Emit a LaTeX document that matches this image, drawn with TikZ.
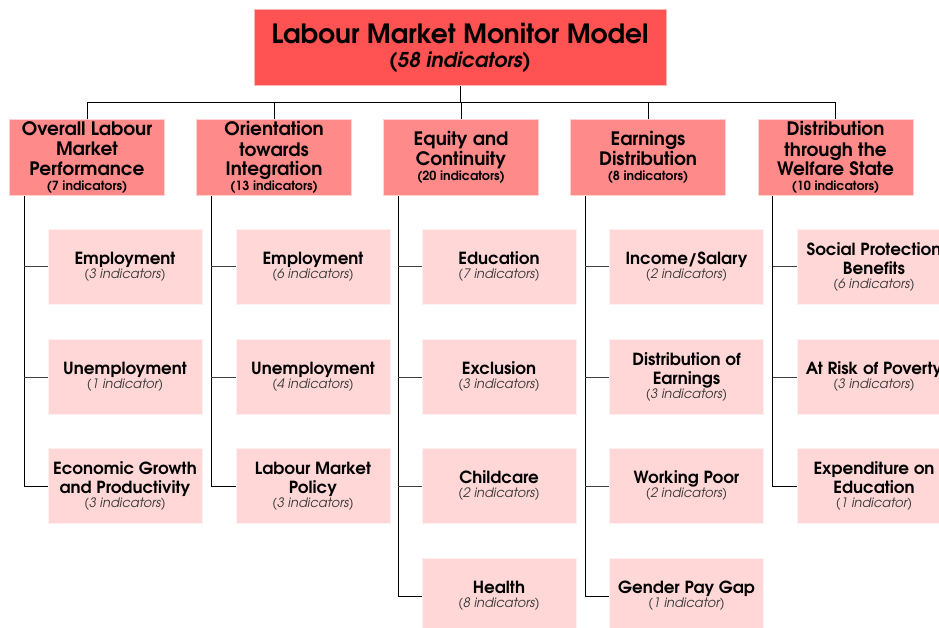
\documentclass[tikz,border=0pt]{standalone}
\usepackage{fontspec}
\setmainfont{TeX Gyre Adventor}
\definecolor{topred}{HTML}{FF5252}
\definecolor{topedge}{HTML}{FFB4B4}
\definecolor{catred}{HTML}{FF8A8A}
\definecolor{catedge}{HTML}{FFD2D2}
\definecolor{subpink}{HTML}{FFD7D7}
\definecolor{subedge}{HTML}{FFF0F0}
\definecolor{cnt}{HTML}{383838}
\newcommand{\ccount}[1]{\\[-5pt]{\fontsize{12.6}{14}\selectfont #1}}
\newcommand{\scount}[1]{\\[-5pt]{\fontsize{13}{14}\selectfont\mdseries\itshape\color{cnt}#1}}
\begin{document}
\begin{tikzpicture}[x=1pt,y=-1pt,
  topbox/.style={fill=topred, draw=topedge, line width=1pt, minimum width=412pt, minimum height=76pt, inner sep=0pt, align=center, font=\fontsize{26.5}{24}\selectfont\bfseries},
  catbox/.style={fill=catred, draw=catedge, line width=1pt, minimum width=155pt, minimum height=76pt, inner sep=0pt, align=center, font=\fontsize{18.5}{20}\selectfont\bfseries},
  subbox/.style={fill=subpink, draw=subedge, line width=1pt, minimum width=154pt, minimum height=75pt, inner sep=0pt, align=center, font=\fontsize{16.7}{19}\selectfont\bfseries},
  link/.style={draw=black, line width=1pt},
  stub/.style={draw=black!75, line width=1pt}]
\useasboundingbox (0,0) rectangle (939,628);

\node[topbox] (top) at (460,48) {Labour Market Monitor Model\\{\fontsize{20.4}{24}\selectfont\itshape (58 indicators)}};

\node[catbox] (c1) at (87,158) {Overall Labour\\Market\\Performance\ccount{(7 indicators)}};
\node[catbox] (c2) at (274,158) {Orientation\\towards\\Integration\ccount{(13 indicators)}};
\node[catbox] (c3) at (461,158) {Equity and\\Continuity\ccount{(20 indicators)}};
\node[catbox] (c4) at (648,158) {Earnings\\Distribution\ccount{(8 indicators)}};
\node[catbox] (c5) at (835.5,158) {Distribution\\through the\\Welfare State\ccount{(10 indicators)}};

\coordinate (bus) at (460,103);
\draw[link] (top.south) -- (bus);
\draw[link] (c1.north) -- (c1.north |- bus) -- (c5.north |- bus) -- (c5.north);
\draw[link] (c2.north) -- (c2.north |- bus);
\draw[link] (c3.north) -- (c3.north |- bus);
\draw[link] (c4.north) -- (c4.north |- bus);

% column 1
\node[subbox] (s11) at (125,267) {Employment\scount{(3 indicators)}};
\node[subbox] (s12) at (125,377) {Unemployment\scount{(1 indicator)}};
\node[subbox] (s13) at (125,486) {Economic Growth\\and Productivity\scount{(3 indicators)}};
% column 2
\node[subbox] (s21) at (313,267) {Employment\scount{(6 indicators)}};
\node[subbox] (s22) at (313,377) {Unemployment\scount{(4 indicators)}};
\node[subbox] (s23) at (313,486) {Labour Market\\Policy\scount{(3 indicators)}};
% column 3
\node[subbox] (s31) at (499,267) {Education\scount{(7 indicators)}};
\node[subbox] (s32) at (499,377) {Exclusion\scount{(3 indicators)}};
\node[subbox] (s33) at (499,486) {Childcare\scount{(2 indicators)}};
\node[subbox] (s34) at (499,596) {Health\scount{(8 indicators)}};
% column 4
\node[subbox] (s41) at (686.5,267) {Income/Salary\scount{(2 indicators)}};
\node[subbox] (s42) at (686.5,377) {Distribution of\\Earnings\scount{(3 indicators)}};
\node[subbox] (s43) at (686.5,486) {Working Poor\scount{(2 indicators)}};
\node[subbox] (s44) at (686.5,596) {Gender Pay Gap\scount{(1 indicator)}};
% column 5
\node[subbox] (s51) at (874,267) {Social Protection\\Benefits\scount{(6 indicators)}};
\node[subbox] (s52) at (874,377) {At Risk of Poverty\scount{(3 indicators)}};
\node[subbox] (s53) at (874,486) {Expenditure on\\Education\scount{(1 indicator)}};

% trunks
\coordinate (t1) at ([xshift=15pt]c1.south west);
\coordinate (t2) at ([xshift=15pt]c2.south west);
\coordinate (t3) at ([xshift=15pt]c3.south west);
\coordinate (t4) at ([xshift=15pt]c4.south west);
\coordinate (t5) at ([xshift=15pt]c5.south west);

\draw[link] (t1) |- (s13.west);
\draw[stub] (s11.west) -- (s11.west -| t1);
\draw[stub] (s12.west) -- (s12.west -| t1);

\draw[link] (t2) |- (s23.west);
\draw[stub] (s21.west) -- (s21.west -| t2);
\draw[stub] (s22.west) -- (s22.west -| t2);

\draw[link] (t3) |- (s34.west);
\draw[stub] (s31.west) -- (s31.west -| t3);
\draw[stub] (s32.west) -- (s32.west -| t3);
\draw[stub] (s33.west) -- (s33.west -| t3);

\draw[link] (t4) |- (s44.west);
\draw[stub] (s41.west) -- (s41.west -| t4);
\draw[stub] (s42.west) -- (s42.west -| t4);
\draw[stub] (s43.west) -- (s43.west -| t4);

\draw[link] (t5) |- (s53.west);
\draw[stub] (s51.west) -- (s51.west -| t5);
\draw[stub] (s52.west) -- (s52.west -| t5);
\end{tikzpicture}
\end{document}
